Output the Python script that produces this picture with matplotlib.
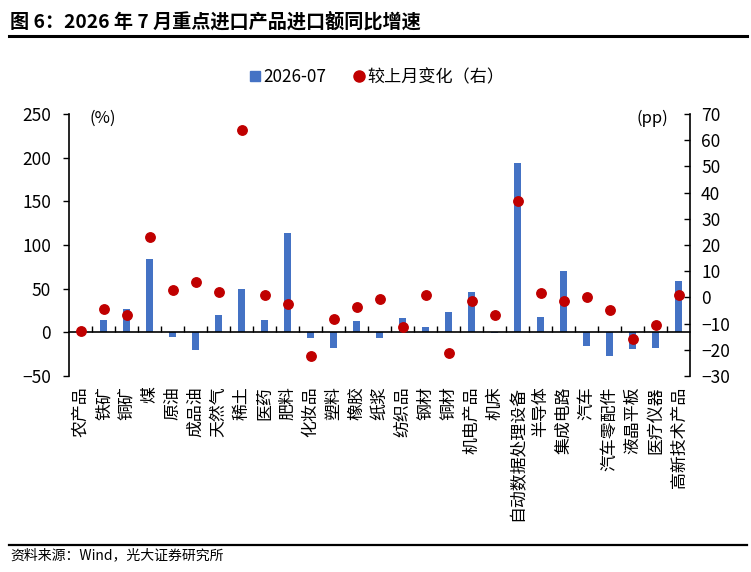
import matplotlib
matplotlib.use("Agg")
import matplotlib.pyplot as plt
import numpy as np
from matplotlib.lines import Line2D

plt.rcParams['font.family'] = ['Noto Sans CJK SC', 'DejaVu Sans']

categories = ["农产品", "铁矿", "铜矿", "煤", "原油", "成品油", "天然气", "稀土", "医药", "肥料",
              "化妆品", "塑料", "橡胶", "纸浆", "纺织品", "钢材", "铜材", "机电产品", "机床",
              "自动数据处理设备", "半导体", "集成电路", "汽车", "汽车零配件", "液晶平板", "医疗仪器", "高新技术产品"]
yoy = [1, 14.1, 26.7, 83.6, -5, -20.6, 19.8, 50, 14.5, 114,
       -6, -18.3, 12.6, -7, 16.8, 6.1, 23.3, 45.8, -1,
       193.5, 17.6, 70.6, -15.6, -27, -18.7, -17.6, 58.8]
mom_change = [-12.7, -4.6, -6.9, 23.0, 2.7, 5.7, 1.9, 64, 1.1, -2.4,
              -22.4, -8.4, -3.6, -0.5, -11.3, 0.9, -21.4, -1.5, -6.9,
              36.9, 1.5, -1.3, 0, -4.7, -16, -10.4, 1.1]
left_ticks = [-50, 0, 50, 100, 150, 200, 250]
right_ticks = [-30, -20, -10, 0, 10, 20, 30, 40, 50, 60, 70]

bar_color = "#4472C4"
dot_color = "#C00000"

W, H = 751, 572
fig = plt.figure(figsize=(W / 100, H / 100), dpi=100)
ax = fig.add_axes([69 / W, 1 - 376 / H, (690 - 69) / W, (376 - 114) / H])
ax2 = ax.twinx()

x = np.arange(len(categories))
ax.bar(x, yoy, width=0.3, color=bar_color, zorder=2)
ax2.plot(x, mom_change, 'o', color=dot_color, markersize=6.8, zorder=3)

ax.set_xlim(-0.5, len(categories) - 0.5)
ax.set_ylim(-50, 250)
ax2.set_ylim(-30, 70)
ax.set_yticks(left_ticks)
ax2.set_yticks(right_ticks)
ax.tick_params(axis='y', labelsize=12.5, length=4, width=1, direction='out', pad=9)
ax2.tick_params(axis='y', labelsize=12.5, length=4, width=1, direction='in', pad=8)

for a in (ax, ax2):
    a.spines['top'].set_visible(False)
ax.spines['right'].set_visible(False)
ax2.spines['left'].set_visible(False)
ax2.spines['bottom'].set_visible(False)
ax.spines['left'].set_linewidth(1.2)
ax2.spines['right'].set_linewidth(1.2)
ax.spines['bottom'].set_position(('data', 0))
ax.spines['bottom'].set_linewidth(1.2)
ax.spines['bottom'].set_zorder(4)

ax.set_xticks(x)
ax.set_xticklabels([])
ax.tick_params(axis='x', which='major', length=0)
ax.set_xticks(np.arange(0.5, len(categories) - 0.5, 1), minor=True)
ax.tick_params(axis='x', which='minor', direction='in', length=4, width=1)

for i, c in enumerate(categories):
    ax.text(i, -0.04, c, rotation=90, ha='center', va='top', fontsize=12.2,
            transform=ax.get_xaxis_transform())

ax.text(0.033, 0.985, "(%)", transform=ax.transAxes, fontsize=12, ha='left', va='center')
ax.text(0.965, 0.985, "(pp)", transform=ax.transAxes, fontsize=12, ha='right', va='center')

handles = [Line2D([], [], marker='s', color=bar_color, linestyle='None', markersize=6.5),
           Line2D([], [], marker='o', color=dot_color, linestyle='None', markersize=8)]
fig.legend(handles, ["2026-07", "较上月变化（右）"], loc='center', bbox_to_anchor=(377 / W, 1 - 77 / H),
           ncol=2, frameon=False, fontsize=12.3, handlelength=0.6, handletextpad=0.2, columnspacing=1.6)

fig.text(10 / W, 1 - 22 / H, "图 6：2026 年 7 月重点进口产品进口额同比增速", fontsize=13.8, fontweight='bold',
         ha='left', va='center')
fig.add_artist(Line2D([9 / W, 747 / W], [1 - 36 / H, 1 - 36 / H], color='black', linewidth=2.2))
fig.add_artist(Line2D([9 / W, 747 / W], [1 - 545 / H, 1 - 545 / H], color='black', linewidth=1.6))
fig.text(10 / W, 1 - 555 / H, "资料来源：Wind，光大证券研究所", fontsize=10, ha='left', va='center')

fig.savefig("out.png", dpi=100)
